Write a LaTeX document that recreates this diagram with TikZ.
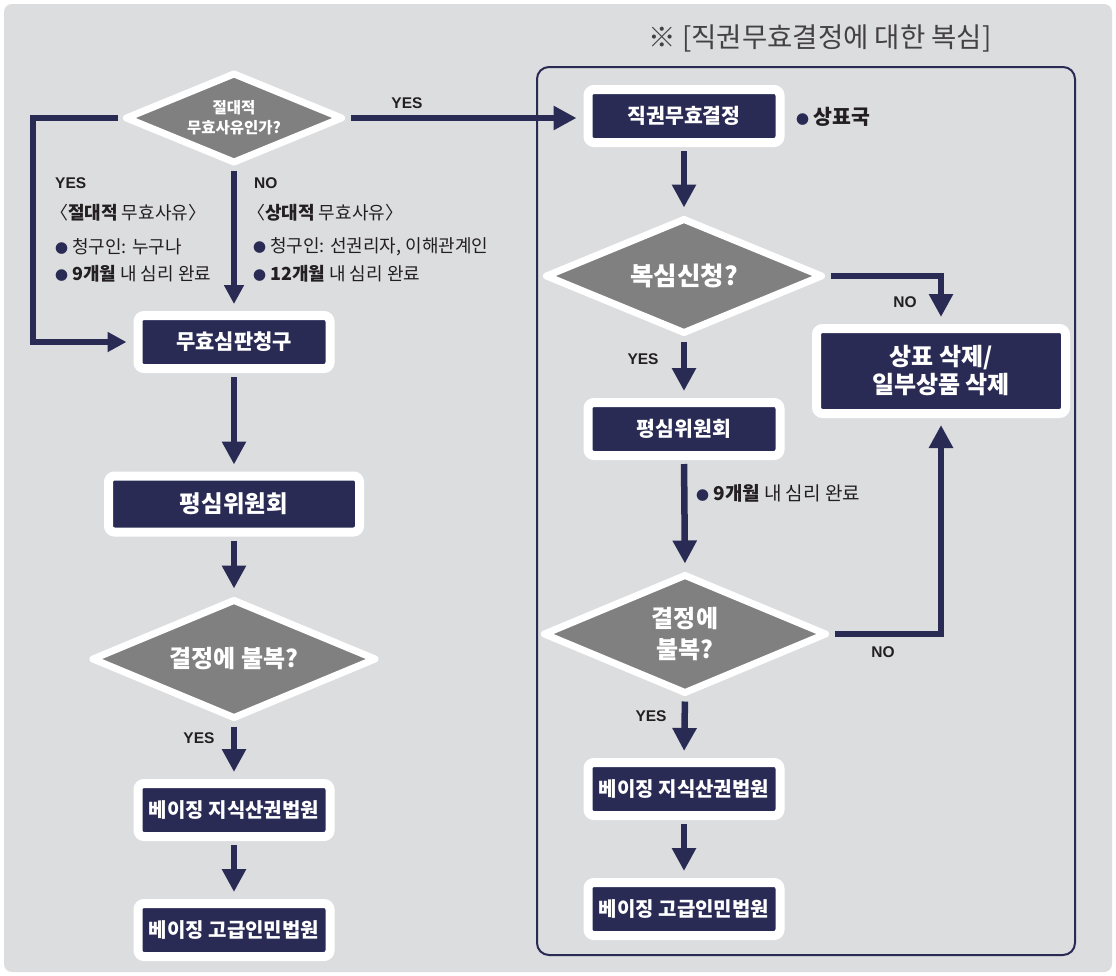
\documentclass[tikz,border=0pt]{standalone}
\usepackage{fontspec}
\setmainfont{Noto Sans CJK KR}
\newfontfamily\latinsans{Liberation Sans}
\usetikzlibrary{shapes.geometric,arrows.meta}

\definecolor{boxnavy}{RGB}{41,43,85}
\definecolor{diagray}{RGB}{128,128,128}
\definecolor{panelgray}{RGB}{220,221,223}
\definecolor{inkdark}{RGB}{35,31,32}

\newcommand{\dotb}{{\color{boxnavy}\fontsize{13}{13}\selectfont ●}}

\begin{document}
\begin{tikzpicture}[x=1pt, y=-1pt,
    procbox/.style={rectangle, rounded corners=6pt, fill=boxnavy, draw=white, line width=9pt, text=white, font=\bfseries\fontsize{20.5}{24}\selectfont, minimum width=192pt, minimum height=53pt, inner sep=0pt, align=center},
    decision/.style={diamond, aspect=2.4, fill=diagray, draw=white, line width=7pt, line join=round, text=white, font=\bfseries\fontsize{24}{31}\selectfont, inner sep=0pt, align=center},
    flow/.style={draw=boxnavy, line width=6.5pt, -{Triangle[width=23pt,length=23pt]}, shorten <=4pt, shorten >=7pt},
    flowsmall/.style={flow, -{Triangle[width=19pt,length=19pt]}},
    yesno/.style={text=inkdark, font=\latinsans\bfseries\fontsize{15.5}{16}\selectfont, inner sep=0pt},
    note/.style={text=inkdark, font=\fontsize{18}{22}\selectfont, inner sep=0pt, anchor=west}]

    \useasboundingbox (0,0) rectangle (1116,975);

    \fill[white] (0,0) rectangle (1116,975);

    \fill[panelgray, rounded corners=8pt] (4,4) rectangle (1112,972);

    \draw[boxnavy, line width=2pt, rounded corners=12pt] (537,67) rectangle (1075,955);

    \node[text=inkdark!85, font=\fontsize{27.5}{32}\selectfont] (title) at (820,38) {※ [직권무효결정에 대한 복심]};

    \node[decision, minimum width=218pt, minimum height=91pt, font=\bfseries\fontsize{15.5}{20}\selectfont] (d1) at (234,118) {절대적\\무효사유인가?};

    \node[procbox, font=\bfseries\fontsize{21}{25}\selectfont] (b1) at (234,342) {무효심판청구};

    \node[procbox, minimum width=251pt, minimum height=56pt, font=\bfseries\fontsize{23.5}{27}\selectfont] (b2) at (234,504) {평심위원회};

    \node[decision, minimum width=285pt, minimum height=120pt] (d3) at (234,659) {결정에 불복?};

    \node[procbox, font=\bfseries\fontsize{20}{24}\selectfont] (b3) at (234,810) {베이징 지식산권법원};

    \node[procbox, font=\bfseries\fontsize{20}{24}\selectfont] (b4) at (234,930) {베이징 고급인민법원};

    \node[procbox] (r1) at (684,116) {직권무효결정};

    \node[decision, minimum width=278pt, minimum height=116pt, font=\bfseries\fontsize{25.5}{30}\selectfont] (d2) at (684,276) {복심신청?};

    \node[procbox] (r2) at (684,429) {평심위원회};

    \node[decision, minimum width=284pt, minimum height=120pt] (d4) at (685,634) {결정에\\불복?};

    \node[procbox, font=\bfseries\fontsize{20}{24}\selectfont] (r3) at (684,789) {베이징 지식산권법원};

    \node[procbox, font=\bfseries\fontsize{20}{24}\selectfont] (r4) at (684,909) {베이징 고급인민법원};

    \node[procbox, minimum width=249pt, minimum height=85pt, font=\bfseries\fontsize{24}{28}\selectfont] (del) at (941,371) {상표 삭제/\\일부상품 삭제};

    \coordinate (lc) at (33,0);

    \draw[flow] (d1.east) -- (d1.east -| r1.west);

    \draw[flowsmall] (d1.west) -- (d1.west -| lc) |- (b1.west);

    \draw[flowsmall] (d1.south) -- (b1.north);

    \draw[flow] (b1.south) -- (b2.north);

    \draw[flow] (b2.south) -- (d3.north);

    \draw[flow] (d3.south) -- (b3.north);

    \draw[flow] (b3.south) -- (b4.north);

    \draw[flow] (r1.south) -- (d2.north);

    \draw[flow] (d2.south) -- (r2.north);

    \draw[flow] (d2.east) -| (del.north);

    \draw[flow] (r2.south) -- (d4.north);

    \draw[flow] (d4.south) -- (r3.north);

    \draw[flow] (d4.east) -| (del.south);

    \draw[flow] (r3.south) -- (r4.north);

    \node[yesno] (yesTop) at (407,103) {YES};

    \node[yesno, anchor=west] (yesAbs) at (55,183) {YES};

    \node[note] (absHead) at (50,213) {〈\textbf{절대적} 무효사유〉};

    \node[note] (absItemA) at (55,247) {\dotb\ 청구인: 누구나};

    \node[note] (absItemB) at (55,274) {\dotb\ \textbf{9개월} 내 심리 완료};

    \node[yesno, anchor=west] (noRel) at (254,183) {NO};

    \node[note] (relHead) at (247,213) {〈\textbf{상대적} 무효사유〉};

    \node[note] (relItemA) at (253,247) {\dotb\ 청구인: 선권리자, 이해관계인};

    \node[note] (relItemB) at (253,274) {\dotb\ \textbf{12개월} 내 심리 완료};

    \node[note, font=\bfseries\fontsize{20.5}{24}\selectfont] (office) at (796,117) {\dotb\ 상표국};

    \node[yesno] (noApp) at (905,302) {NO};

    \node[yesno] (yesApp) at (643,359) {YES};

    \node[note, font=\fontsize{19}{22}\selectfont] (termR) at (696,493) {\dotb\ \textbf{9개월} 내 심리 완료};

    \node[yesno] (noObj) at (883,652) {NO};

    \node[yesno] (yesObj) at (651,716) {YES};

    \node[yesno] (yesLow) at (199,738) {YES};

\end{tikzpicture}
\end{document}
